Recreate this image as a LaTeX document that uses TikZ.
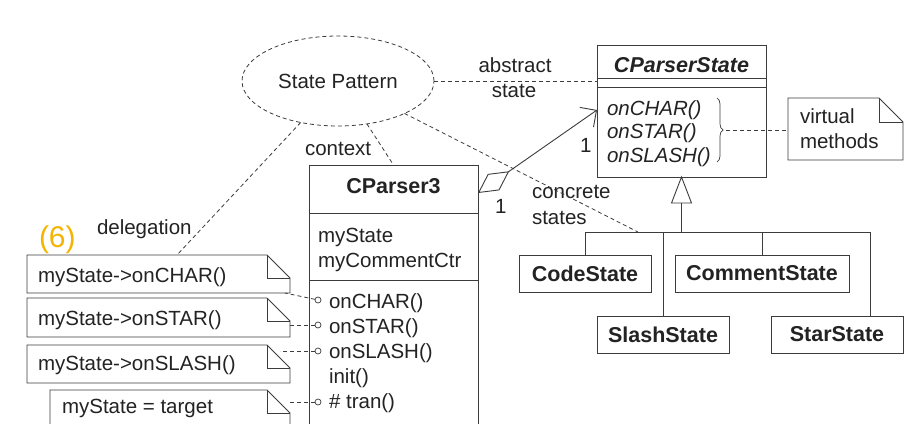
\documentclass[tikz,border=0pt]{standalone}
\usepackage{fontspec}
\setmainfont{Liberation Sans}
\usetikzlibrary{arrows.meta,shapes.geometric,decorations.pathreplacing,calc}
\definecolor{ink}{RGB}{60,60,60}
\definecolor{txt}{RGB}{35,35,35}
\definecolor{gold}{RGB}{245,180,0}
\newcommand\dogear[2]{%
  \draw[ln] (#1.south west) -- (#1.north west) -- ([xshift=-#2 pt]#1.north east) -- ([yshift=-#2 pt]#1.north east) -- (#1.south east) -- cycle;
  \draw[ln] ([xshift=-#2 pt]#1.north east) |- ([yshift=-#2 pt]#1.north east);}
\begin{document}
\begin{tikzpicture}[x=1pt,y=-1pt,
  every node/.style={inner sep=0pt, outer sep=0pt, text=txt},
  ln/.style={draw=ink, line width=0.9pt},
  dsh/.style={draw=ink, line width=0.8pt, dash pattern=on 4pt off 3pt},
  box/.style={ln, rectangle, anchor=north west},
  regtxt/.style={font=\fontsize{20.5}{24}\selectfont, anchor=base west},
  ittxt/.style={font=\fontsize{20.5}{24}\selectfont\itshape, anchor=base west},
  bftxt/.style={font=\fontsize{21.5}{24}\selectfont\bfseries},
  port/.style={circle, draw=ink, line width=0.7pt, minimum size=6pt, fill=white},
  notebg/.style={rectangle, anchor=north west, draw=none}
]
\useasboundingbox[fill=white] (0,0) rectangle (917,423);

% State Pattern ellipse
\node[ellipse, draw=ink, line width=0.8pt, dash pattern=on 4pt off 3pt, minimum width=192pt, minimum height=90pt, font=\fontsize{20.5}{24}\selectfont] (sp) at (338,81) {State Pattern};

% CParserState
\node[box, minimum width=169pt, minimum height=132pt] (cps) at (597,45) {};
\draw[ln] ($(cps.north west)+(0,33)$) -- ($(cps.north east)+(0,33)$);
\draw[ln] ($(cps.north west)+(0,42)$) -- ($(cps.north east)+(0,42)$);
\node[bftxt, anchor=base, font=\fontsize{21.5}{24}\selectfont\bfseries\itshape] (cpst) at (681.5,72) {CParserState};
\node[ittxt] (m1) at (607,115) {onCHAR()};
\node[ittxt] (m2) at (607,138.5) {onSTAR()};
\node[ittxt] (m3) at (607,162) {onSLASH()};
\draw[ln, line width=0.7pt, decorate, decoration={brace, amplitude=6pt}] (717,98) -- (717,162);
\coordinate (bt) at (726,130);

% virtual methods note
\node[notebg, minimum width=115pt, minimum height=62pt] (vn) at (788,98) {};
\dogear{vn}{24}
\node[regtxt] (vt1) at (800,123) {virtual};
\node[regtxt] (vt2) at (800,148) {methods};
\draw[dsh] (bt) -- (bt -| vn.west);

% CParser3
\node[box, minimum width=169pt, minimum height=290pt] (cp3) at (309,165) {};
\draw[ln] ($(cp3.north west)+(0,48)$) -- ($(cp3.north east)+(0,48)$);
\draw[ln] ($(cp3.north west)+(0,115)$) -- ($(cp3.north east)+(0,115)$);
\node[bftxt, anchor=base] (cp3t) at (393.5,193) {CParser3};
\node[regtxt] (a1) at (318,242) {myState};
\node[regtxt] (a2) at (318,267) {myCommentCtr};
\node[regtxt] (o1) at (329,308) {onCHAR()};
\node[regtxt] (o2) at (329,333) {onSTAR()};
\node[regtxt] (o3) at (329,358) {onSLASH()};
\node[regtxt] (o4) at (329,383) {init()};
\node[regtxt] (o5) at (329,408) {\# tran()};

% association
\draw[ln, {Diamond[open,length=38pt,width=20pt]}-{Straight Barb[length=12pt,width=24pt]}] ($(cp3.north east)+(0,28)$) -- ($(cps.north west)+(0,65)$);
\node[regtxt] (one1) at (580,152) {1};
\node[regtxt] (one2) at (495,213) {1};

% subclasses
\node[box, minimum width=132pt, minimum height=37pt, bftxt] (code) at (519,255) {CodeState};
\node[box, minimum width=174pt, minimum height=37pt, bftxt] (comment) at (675,255) {CommentState};
\node[box, minimum width=132pt, minimum height=37pt, bftxt] (slash) at (597,316) {SlashState};
\node[box, minimum width=132pt, minimum height=37pt, bftxt] (star) at (771,316) {StarState};
\coordinate (hb) at (682,232);
\coordinate (tb) at ($(cps.south)+(0,26)$);
\draw[ln] (cps.south) -- ($(tb)+(-10,0)$) -- ($(tb)+(10,0)$) -- cycle;
\draw[ln] (tb) -- (tb |- hb);
\coordinate (xs) at ($(star.north)+(33,0)$);
\draw[ln] (code.north) -- (code.north |- hb) -- (xs |- hb) -- (xs);
\draw[ln] (slash.north) -- (slash.north |- hb);
\draw[ln] (comment.north) -- (comment.north |- hb);

% labels
\node[regtxt, anchor=base] (abs1) at (515,72) {abstract};
\node[regtxt, anchor=base] (abs2) at (514,97) {state};
\node[regtxt] (ctx) at (305,155) {context};
\node[regtxt] (deleg) at (97,234) {delegation};
\node[regtxt] (conc1) at (532,198) {concrete};
\node[regtxt] (conc2) at (532,224) {states};
\node[anchor=base west, font=\fontsize{30}{34}\selectfont, text=gold] (six) at (39,247) {(6)};

% dashed links from ellipse
\coordinate (cs) at (638,232);
\draw[dsh] (sp.east) -- (sp.east -| cps.west);
\draw[dsh] (sp.-56) -- (cp3.north);
\draw[dsh] (sp.-26) -- (cs);

% notes
\node[notebg, minimum width=263pt, minimum height=38pt] (n1) at (27,255) {};
\node[notebg, minimum width=263pt, minimum height=39pt] (n2) at (27,298) {};
\node[notebg, minimum width=263pt, minimum height=38pt] (n3) at (27,345) {};
\node[notebg, minimum width=240pt, minimum height=60pt] (n4) at (50,390) {};
\dogear{n1}{23}
\dogear{n2}{23}
\dogear{n3}{23}
\dogear{n4}{23}
\node[regtxt] (t1) at (38,282) {myState->onCHAR()};
\node[regtxt] (t2) at (38,325) {myState->onSTAR()};
\node[regtxt] (t3) at (38,370) {myState->onSLASH()};
\node[regtxt] (t4) at (62,413) {myState = target};
\coordinate (dl) at ($(n1.north west)+(150,0)$);
\draw[dsh] (sp.-132) -- (dl);

% ports
\node[port] (c1) at (318,300) {};
\node[port] (c2) at (318,325) {};
\node[port] (c3) at (318,351) {};
\node[port] (c4) at (318,402) {};
\draw[dsh] (c1) -- ($(n1.south east)+(-5,0)$);
\draw[dsh] (c2) -- (c2 -| n2.east);
\draw[dsh] (c3) -- ($(c3 -| n3.east)+(-10,0)$);
\draw[dsh] (c4) -- ($(c4 -| n4.east)+(-2,0)$);
\end{tikzpicture}
\end{document}
